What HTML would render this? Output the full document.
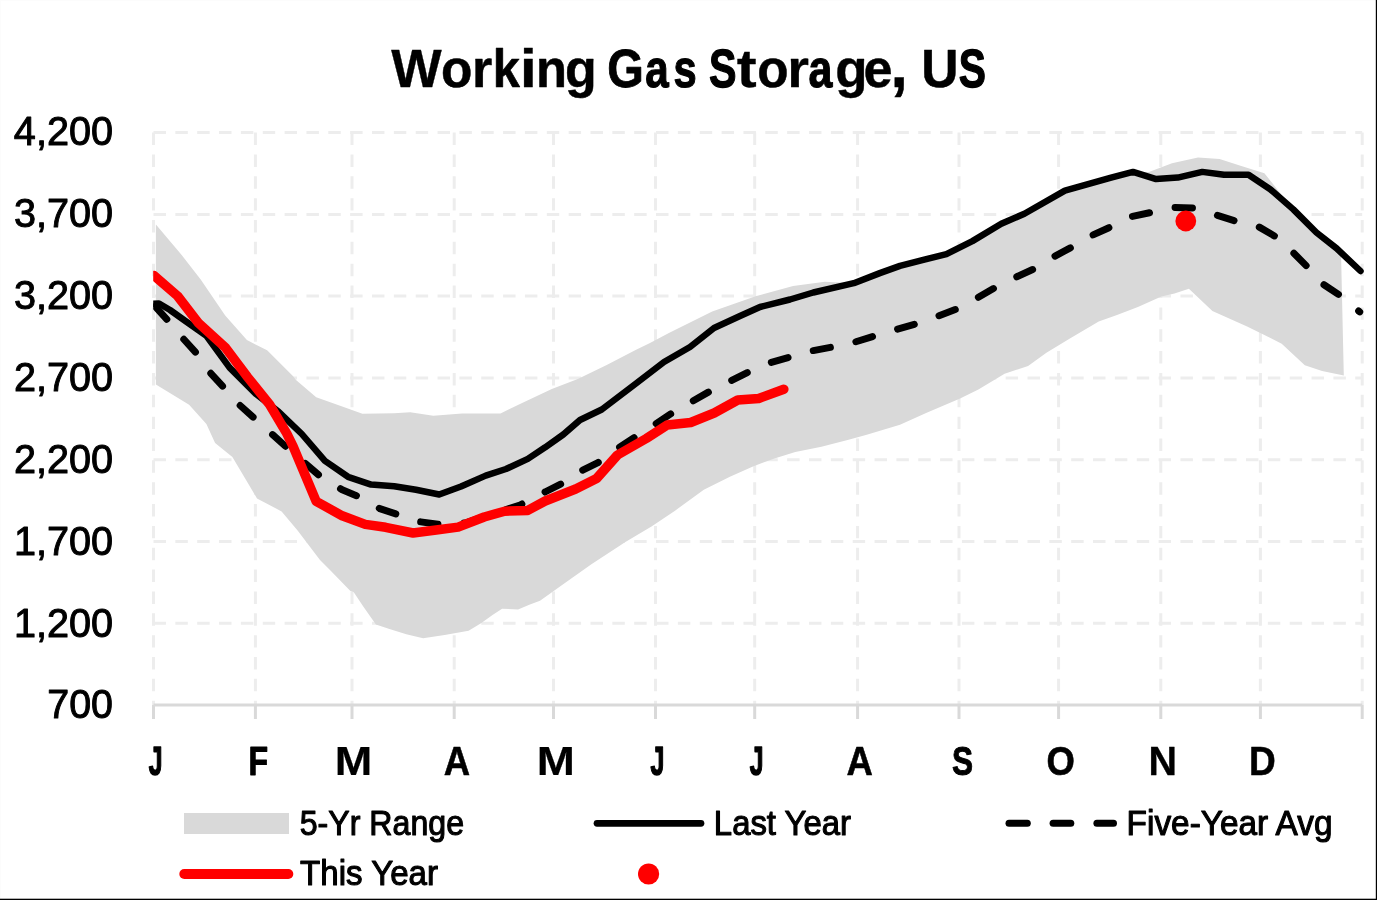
<!DOCTYPE html>
<html><head><meta charset="utf-8"><style>
html,body{margin:0;padding:0;background:#fff;}
body{width:1377px;height:900px;overflow:hidden;position:relative;font-family:"Liberation Sans",sans-serif;}
svg{position:absolute;left:0;top:0;display:block;will-change:transform;}
</style></head><body>
<svg width="1377" height="900" viewBox="0 0 1377 900">
<line x1="153.5" y1="132.6" x2="1362.2" y2="132.6" stroke="#ededed" stroke-width="3" stroke-dasharray="12.45 9.4"/>
<line x1="153.5" y1="214.4" x2="1362.2" y2="214.4" stroke="#ededed" stroke-width="3" stroke-dasharray="12.45 9.4"/>
<line x1="153.5" y1="296.1" x2="1362.2" y2="296.1" stroke="#ededed" stroke-width="3" stroke-dasharray="12.45 9.4"/>
<line x1="153.5" y1="377.9" x2="1362.2" y2="377.9" stroke="#ededed" stroke-width="3" stroke-dasharray="12.45 9.4"/>
<line x1="153.5" y1="459.7" x2="1362.2" y2="459.7" stroke="#ededed" stroke-width="3" stroke-dasharray="12.45 9.4"/>
<line x1="153.5" y1="541.4" x2="1362.2" y2="541.4" stroke="#ededed" stroke-width="3" stroke-dasharray="12.45 9.4"/>
<line x1="153.5" y1="623.2" x2="1362.2" y2="623.2" stroke="#ededed" stroke-width="3" stroke-dasharray="12.45 9.4"/>
<line x1="153.5" y1="132.6" x2="153.5" y2="705" stroke="#ededed" stroke-width="3" stroke-dasharray="12.45 9.4"/>
<line x1="255.4" y1="132.6" x2="255.4" y2="705" stroke="#ededed" stroke-width="3" stroke-dasharray="12.45 9.4"/>
<line x1="352.0" y1="132.6" x2="352.0" y2="705" stroke="#ededed" stroke-width="3" stroke-dasharray="12.45 9.4"/>
<line x1="454.2" y1="132.6" x2="454.2" y2="705" stroke="#ededed" stroke-width="3" stroke-dasharray="12.45 9.4"/>
<line x1="553.5" y1="132.6" x2="553.5" y2="705" stroke="#ededed" stroke-width="3" stroke-dasharray="12.45 9.4"/>
<line x1="655.5" y1="132.6" x2="655.5" y2="705" stroke="#ededed" stroke-width="3" stroke-dasharray="12.45 9.4"/>
<line x1="754.7" y1="132.6" x2="754.7" y2="705" stroke="#ededed" stroke-width="3" stroke-dasharray="12.45 9.4"/>
<line x1="857.6" y1="132.6" x2="857.6" y2="705" stroke="#ededed" stroke-width="3" stroke-dasharray="12.45 9.4"/>
<line x1="959.0" y1="132.6" x2="959.0" y2="705" stroke="#ededed" stroke-width="3" stroke-dasharray="12.45 9.4"/>
<line x1="1058.6" y1="132.6" x2="1058.6" y2="705" stroke="#ededed" stroke-width="3" stroke-dasharray="12.45 9.4"/>
<line x1="1160.8" y1="132.6" x2="1160.8" y2="705" stroke="#ededed" stroke-width="3" stroke-dasharray="12.45 9.4"/>
<line x1="1260.4" y1="132.6" x2="1260.4" y2="705" stroke="#ededed" stroke-width="3" stroke-dasharray="12.45 9.4"/>
<line x1="1362.2" y1="132.6" x2="1362.2" y2="705" stroke="#ededed" stroke-width="3" stroke-dasharray="12.45 9.4"/>
<polygon points="155.9,224.6 180.4,253.4 200.7,279.4 225.2,315.6 246.9,340.1 267.1,350.2 293.1,376.2 296.0,380.0 316.2,397.3 342.2,406.6 362.4,413.8 394.2,413.2 410.2,412.2 433.3,415.8 462.2,413.4 500.5,413.5 520.0,404.0 551.8,389.0 577.8,379.0 606.7,365.0 635.6,350.0 650.0,343.0 668.9,333.0 712.2,311.5 755.6,296.2 793.1,286.1 824.9,281.8 853.8,283.2 879.8,273.1 900.0,265.9 923.3,259.9 946.4,254.1 972.4,241.1 1001.3,223.8 1024.4,213.7 1064.9,190.6 1111.1,177.6 1131.3,172.4 1148.9,171.9 1172.0,163.2 1198.0,157.4 1219.6,158.9 1241.3,166.1 1264.4,173.3 1281.7,195.0 1293.3,209.4 1316.4,232.5 1336.6,248.4 1341.0,252.0 1343.8,375.4 1322.1,371.1 1304.8,365.3 1281.7,343.7 1247.1,326.4 1212.4,311.0 1188.9,288.8 1174.5,293.5 1161.4,296.6 1137.9,307.1 1117.0,314.9 1098.7,321.4 1069.9,338.4 1046.4,352.8 1028.1,365.9 1004.6,373.7 978.4,389.4 960.1,398.6 926.1,413.0 900.0,424.7 865.9,434.9 847.6,440.1 821.4,446.7 795.3,451.9 774.4,458.4 753.5,466.3 729.9,476.7 703.8,489.8 675.0,510.7 651.5,526.4 625.4,542.1 591.4,564.3 560.0,586.5 540.0,600.7 529.3,604.7 518.1,609.5 502.1,608.7 492.5,615.1 481.4,623.1 468.6,630.7 444.6,635.1 423.1,638.3 406.3,634.3 388.7,628.7 375.9,624.4 363.1,606.3 353.6,591.9 350.4,591.1 331.2,571.2 320.0,560.0 297.4,530.2 281.6,511.4 257.0,498.4 232.4,457.0 215.1,443.0 206.4,424.0 189.1,404.8 155.9,384.6" fill="#d9d9d9"/>
<line x1="153.5" y1="705" x2="1362.2" y2="705" stroke="#d9d9d9" stroke-width="3"/>
<line x1="153.5" y1="705" x2="153.5" y2="719" stroke="#d9d9d9" stroke-width="3"/>
<line x1="255.4" y1="705" x2="255.4" y2="719" stroke="#d9d9d9" stroke-width="3"/>
<line x1="352.0" y1="705" x2="352.0" y2="719" stroke="#d9d9d9" stroke-width="3"/>
<line x1="454.2" y1="705" x2="454.2" y2="719" stroke="#d9d9d9" stroke-width="3"/>
<line x1="553.5" y1="705" x2="553.5" y2="719" stroke="#d9d9d9" stroke-width="3"/>
<line x1="655.5" y1="705" x2="655.5" y2="719" stroke="#d9d9d9" stroke-width="3"/>
<line x1="754.7" y1="705" x2="754.7" y2="719" stroke="#d9d9d9" stroke-width="3"/>
<line x1="857.6" y1="705" x2="857.6" y2="719" stroke="#d9d9d9" stroke-width="3"/>
<line x1="959.0" y1="705" x2="959.0" y2="719" stroke="#d9d9d9" stroke-width="3"/>
<line x1="1058.6" y1="705" x2="1058.6" y2="719" stroke="#d9d9d9" stroke-width="3"/>
<line x1="1160.8" y1="705" x2="1160.8" y2="719" stroke="#d9d9d9" stroke-width="3"/>
<line x1="1260.4" y1="705" x2="1260.4" y2="719" stroke="#d9d9d9" stroke-width="3"/>
<line x1="1362.2" y1="705" x2="1362.2" y2="719" stroke="#d9d9d9" stroke-width="3"/>
<defs><clipPath id="pc"><rect x="153.2" y="100" width="1220" height="620"/></clipPath></defs><g clip-path="url(#pc)">
<polyline points="151.0,302.0 167.4,319.9 183.3,338.7 196.3,353.1 210.8,373.3 223.8,387.5 239.7,405.1 254.1,418.0 272.9,434.9 287.3,447.9 319.1,475.3 342.2,489.8 359.6,497.0 379.8,508.6 397.1,514.3 418.9,521.6 439.1,524.4 465.1,523.0 520.0,505.0 546.0,491.5 563.3,482.8 580.7,471.2 598.0,462.6 618.2,448.1 635.6,436.6 654.4,424.8 671.8,413.2 709.3,391.6 749.8,371.3 770.0,362.7 790.2,356.9 810.4,351.1 833.6,346.8 853.8,342.4 876.9,335.2 897.3,329.2 917.6,323.4 937.8,316.2 956.6,309.0 978.2,297.4 995.6,287.3 1015.8,277.2 1034.6,268.6 1053.3,257.0 1072.1,246.9 1092.3,235.3 1111.1,226.7 1131.6,216.6 1151.8,212.3 1173.4,207.4 1195.1,208.0 1216.7,215.2 1235.5,221.0 1258.6,226.7 1275.9,236.8 1293.3,252.7 1307.7,267.2 1323.6,284.5 1340.9,296.0 1359.7,311.9" fill="none" stroke="#000" stroke-width="7" stroke-linecap="round" stroke-linejoin="round" stroke-dasharray="17.4 26.16" stroke-dashoffset="-6.05"/>
<polyline points="150.0,303.8 159.0,303.5 170.0,310.0 183.3,319.5 206.4,335.8 229.6,367.6 255.6,393.6 278.7,411.8 301.8,434.0 324.9,460.9 348.0,476.8 371.1,484.6 394.2,486.3 416.0,489.8 439.2,494.5 461.0,486.5 485.7,475.6 506.0,469.0 527.8,458.9 545.2,447.3 563.3,434.5 580.0,420.0 601.8,409.5 636.0,383.5 664.0,362.0 690.0,347.0 714.0,328.0 740.0,316.0 760.0,307.0 790.0,299.5 813.3,292.5 853.8,283.2 879.8,273.1 900.0,265.9 923.3,259.9 946.4,254.1 972.4,241.1 1001.3,223.8 1024.4,213.7 1064.9,190.6 1111.1,177.6 1133.0,171.9 1156.1,179.1 1177.8,177.6 1202.3,171.9 1224.0,174.8 1248.5,174.8 1270.2,189.2 1293.3,209.4 1316.4,232.5 1336.6,248.4 1360.5,271.0" fill="none" stroke="#000" stroke-width="6.5" stroke-linecap="round" stroke-linejoin="round"/>
<polyline points="154.0,275.6 177.6,296.0 198.7,323.3 225.6,347.8 247.6,377.1 269.6,404.5 286.7,433.4 293.1,446.4 316.2,501.3 342.2,515.8 365.3,524.4 385.6,527.3 413.1,533.0 436.2,530.0 458.1,527.1 484.2,517.0 504.6,511.2 527.8,510.4 545.2,501.0 575.7,489.0 596.6,478.5 617.5,455.0 646.3,438.5 667.2,425.0 690.7,422.5 714.2,413.0 737.8,400.0 758.7,398.5 783.8,389.2" fill="none" stroke="#ff0000" stroke-width="9.5" stroke-linecap="round" stroke-linejoin="round"/>
<circle cx="1185.8" cy="221" r="10.4" fill="#ff0000"/>
</g>
<text x="391.20" y="87.10" font-family="Liberation Sans, sans-serif" font-weight="bold" font-size="54.3" textLength="50.40" lengthAdjust="spacingAndGlyphs" stroke="#000" stroke-width="0.3665173038048419" stroke-linejoin="round">W</text>
<text x="440.95" y="87.10" font-family="Liberation Sans, sans-serif" font-weight="bold" font-size="54.3" textLength="31.40" lengthAdjust="spacingAndGlyphs" stroke="#000" stroke-width="0.5131028025112323" stroke-linejoin="round">o</text>
<text x="472.00" y="87.10" font-family="Liberation Sans, sans-serif" font-weight="bold" font-size="54.3" textLength="20.34" lengthAdjust="spacingAndGlyphs" stroke="#000" stroke-width="0.44933869077514926" stroke-linejoin="round">r</text>
<text x="492.74" y="87.10" font-family="Liberation Sans, sans-serif" font-weight="bold" font-size="54.3" textLength="27.07" lengthAdjust="spacingAndGlyphs" stroke="#000" stroke-width="0.7150793560756397" stroke-linejoin="round">k</text>
<text x="519.81" y="87.10" font-family="Liberation Sans, sans-serif" font-weight="bold" font-size="54.3" textLength="17.24" lengthAdjust="spacingAndGlyphs" stroke="#000" stroke-width="0.3" stroke-linejoin="round">i</text>
<text x="536.00" y="87.10" font-family="Liberation Sans, sans-serif" font-weight="bold" font-size="54.3" textLength="30.98" lengthAdjust="spacingAndGlyphs" stroke="#000" stroke-width="0.563378439693597" stroke-linejoin="round">n</text>
<text x="565.12" y="87.10" font-family="Liberation Sans, sans-serif" font-weight="bold" font-size="54.3" textLength="31.70" lengthAdjust="spacingAndGlyphs" stroke="#000" stroke-width="0.4776303504937191" stroke-linejoin="round">g</text>
<text x="607.22" y="87.10" font-family="Liberation Sans, sans-serif" font-weight="bold" font-size="54.3" textLength="36.53" lengthAdjust="spacingAndGlyphs" stroke="#000" stroke-width="0.8404815496896474" stroke-linejoin="round">G</text>
<text x="645.13" y="87.10" font-family="Liberation Sans, sans-serif" font-weight="bold" font-size="54.3" textLength="23.48" lengthAdjust="spacingAndGlyphs" stroke="#000" stroke-width="1.1903216443979143" stroke-linejoin="round">a</text>
<text x="673.49" y="87.10" font-family="Liberation Sans, sans-serif" font-weight="bold" font-size="54.3" textLength="23.17" lengthAdjust="spacingAndGlyphs" stroke="#000" stroke-width="1.2306322897482944" stroke-linejoin="round">s</text>
<text x="709.05" y="87.10" font-family="Liberation Sans, sans-serif" font-weight="bold" font-size="54.3" textLength="27.50" lengthAdjust="spacingAndGlyphs" stroke="#000" stroke-width="1.2624020390029982" stroke-linejoin="round">S</text>
<text x="736.73" y="87.10" font-family="Liberation Sans, sans-serif" font-weight="bold" font-size="54.3" textLength="19.94" lengthAdjust="spacingAndGlyphs" stroke="#000" stroke-width="0.3" stroke-linejoin="round">t</text>
<text x="757.15" y="87.10" font-family="Liberation Sans, sans-serif" font-weight="bold" font-size="54.3" textLength="31.29" lengthAdjust="spacingAndGlyphs" stroke="#000" stroke-width="0.5269235952027926" stroke-linejoin="round">o</text>
<text x="787.16" y="87.10" font-family="Liberation Sans, sans-serif" font-weight="bold" font-size="54.3" textLength="21.73" lengthAdjust="spacingAndGlyphs" stroke="#000" stroke-width="0.3" stroke-linejoin="round">r</text>
<text x="808.50" y="87.10" font-family="Liberation Sans, sans-serif" font-weight="bold" font-size="54.3" textLength="23.89" lengthAdjust="spacingAndGlyphs" stroke="#000" stroke-width="1.1350384736316583" stroke-linejoin="round">a</text>
<text x="835.18" y="87.10" font-family="Liberation Sans, sans-serif" font-weight="bold" font-size="54.3" textLength="32.30" lengthAdjust="spacingAndGlyphs" stroke="#000" stroke-width="0.4044048782809552" stroke-linejoin="round">g</text>
<text x="863.62" y="87.10" font-family="Liberation Sans, sans-serif" font-weight="bold" font-size="54.3" textLength="29.02" lengthAdjust="spacingAndGlyphs" stroke="#000" stroke-width="0.45661782368483567" stroke-linejoin="round">e</text>
<text x="890.59" y="87.10" font-family="Liberation Sans, sans-serif" font-weight="bold" font-size="62.44499999999999" textLength="17.35" lengthAdjust="spacingAndGlyphs" stroke="#000" stroke-width="0.5" stroke-linejoin="round">,</text>
<text x="921.36" y="87.10" font-family="Liberation Sans, sans-serif" font-weight="bold" font-size="54.3" textLength="37.25" lengthAdjust="spacingAndGlyphs" stroke="#000" stroke-width="0.5003168445469808" stroke-linejoin="round">U</text>
<text x="958.87" y="87.10" font-family="Liberation Sans, sans-serif" font-weight="bold" font-size="54.3" textLength="27.17" lengthAdjust="spacingAndGlyphs" stroke="#000" stroke-width="1.2992959413632803" stroke-linejoin="round">S</text>
<text x="13.87" y="145.10" font-family="Liberation Sans, sans-serif" font-size="41.5" textLength="99.19" lengthAdjust="spacingAndGlyphs" stroke="#000" stroke-width="1.0" stroke-linejoin="round">4,200</text>
<text x="13.88" y="227.00" font-family="Liberation Sans, sans-serif" font-size="41.5" textLength="99.19" lengthAdjust="spacingAndGlyphs" stroke="#000" stroke-width="1.0" stroke-linejoin="round">3,700</text>
<text x="13.88" y="308.90" font-family="Liberation Sans, sans-serif" font-size="41.5" textLength="99.19" lengthAdjust="spacingAndGlyphs" stroke="#000" stroke-width="1.0" stroke-linejoin="round">3,200</text>
<text x="13.88" y="390.80" font-family="Liberation Sans, sans-serif" font-size="41.5" textLength="99.18" lengthAdjust="spacingAndGlyphs" stroke="#000" stroke-width="1.0" stroke-linejoin="round">2,700</text>
<text x="13.88" y="472.70" font-family="Liberation Sans, sans-serif" font-size="41.5" textLength="99.18" lengthAdjust="spacingAndGlyphs" stroke="#000" stroke-width="1.0" stroke-linejoin="round">2,200</text>
<text x="13.89" y="554.60" font-family="Liberation Sans, sans-serif" font-size="41.5" textLength="99.17" lengthAdjust="spacingAndGlyphs" stroke="#000" stroke-width="1.0" stroke-linejoin="round">1,700</text>
<text x="13.89" y="636.50" font-family="Liberation Sans, sans-serif" font-size="41.5" textLength="99.17" lengthAdjust="spacingAndGlyphs" stroke="#000" stroke-width="1.0" stroke-linejoin="round">1,200</text>
<text x="47.29" y="718.40" font-family="Liberation Sans, sans-serif" font-size="41.5" textLength="65.76" lengthAdjust="spacingAndGlyphs" stroke="#000" stroke-width="1.0" stroke-linejoin="round">700</text>
<text x="148.63" y="775.10" font-family="Liberation Sans, sans-serif" font-weight="bold" font-size="41.3" textLength="13.76" lengthAdjust="spacingAndGlyphs" stroke="#000" stroke-width="1.603751746873541" stroke-linejoin="round">J</text>
<text x="248.55" y="775.10" font-family="Liberation Sans, sans-serif" font-weight="bold" font-size="41.3" textLength="19.64" lengthAdjust="spacingAndGlyphs" stroke="#000" stroke-width="0.975432086383845" stroke-linejoin="round">F</text>
<text x="334.88" y="775.10" font-family="Liberation Sans, sans-serif" font-weight="bold" font-size="41.3" textLength="37.54" lengthAdjust="spacingAndGlyphs" stroke="#000" stroke-width="0.2" stroke-linejoin="round">M</text>
<text x="443.69" y="775.10" font-family="Liberation Sans, sans-serif" font-weight="bold" font-size="41.3" textLength="26.37" lengthAdjust="spacingAndGlyphs" stroke="#000" stroke-width="0.6057061304907998" stroke-linejoin="round">A</text>
<text x="536.73" y="775.10" font-family="Liberation Sans, sans-serif" font-weight="bold" font-size="41.3" textLength="38.14" lengthAdjust="spacingAndGlyphs" stroke="#000" stroke-width="0.2" stroke-linejoin="round">M</text>
<text x="650.43" y="775.10" font-family="Liberation Sans, sans-serif" font-weight="bold" font-size="41.3" textLength="13.87" lengthAdjust="spacingAndGlyphs" stroke="#000" stroke-width="1.5858350951374283" stroke-linejoin="round">J</text>
<text x="749.63" y="775.10" font-family="Liberation Sans, sans-serif" font-weight="bold" font-size="41.3" textLength="13.76" lengthAdjust="spacingAndGlyphs" stroke="#000" stroke-width="1.603751746873556" stroke-linejoin="round">J</text>
<text x="846.39" y="775.10" font-family="Liberation Sans, sans-serif" font-weight="bold" font-size="41.3" textLength="26.37" lengthAdjust="spacingAndGlyphs" stroke="#000" stroke-width="0.6057061304908067" stroke-linejoin="round">A</text>
<text x="951.88" y="775.10" font-family="Liberation Sans, sans-serif" font-weight="bold" font-size="41.3" textLength="21.05" lengthAdjust="spacingAndGlyphs" stroke="#000" stroke-width="1.0260518944002908" stroke-linejoin="round">S</text>
<text x="1046.61" y="775.10" font-family="Liberation Sans, sans-serif" font-weight="bold" font-size="41.3" textLength="28.32" lengthAdjust="spacingAndGlyphs" stroke="#000" stroke-width="0.6150103645896613" stroke-linejoin="round">O</text>
<text x="1148.46" y="775.10" font-family="Liberation Sans, sans-serif" font-weight="bold" font-size="41.3" textLength="28.49" lengthAdjust="spacingAndGlyphs" stroke="#000" stroke-width="0.3562896344978279" stroke-linejoin="round">N</text>
<text x="1249.02" y="775.10" font-family="Liberation Sans, sans-serif" font-weight="bold" font-size="41.3" textLength="26.74" lengthAdjust="spacingAndGlyphs" stroke="#000" stroke-width="0.5617800757596636" stroke-linejoin="round">D</text>
<rect x="184" y="813" width="105" height="21" fill="#d9d9d9"/>
<text x="299.76" y="835.00" font-family="Liberation Sans, sans-serif" font-size="34.3" textLength="164.29" lengthAdjust="spacingAndGlyphs" stroke="#000" stroke-width="1.1" stroke-linejoin="round">5-Yr Range</text>
<line x1="597" y1="823.3" x2="701" y2="823.3" stroke="#000" stroke-width="6.7" stroke-linecap="round"/>
<text x="713.85" y="834.90" font-family="Liberation Sans, sans-serif" font-size="34.3" textLength="137.17" lengthAdjust="spacingAndGlyphs" stroke="#000" stroke-width="1.1" stroke-linejoin="round">Last Year</text>
<line x1="1009.0" y1="823.2" x2="1027.3" y2="823.2" stroke="#000" stroke-width="7" stroke-linecap="round"/>
<line x1="1053.1" y1="823.2" x2="1070.8" y2="823.2" stroke="#000" stroke-width="7" stroke-linecap="round"/>
<line x1="1096.9" y1="823.2" x2="1113.5" y2="823.2" stroke="#000" stroke-width="7" stroke-linecap="round"/>
<text x="1126.61" y="834.50" font-family="Liberation Sans, sans-serif" font-size="34.3" textLength="205.89" lengthAdjust="spacingAndGlyphs" stroke="#000" stroke-width="1.1" stroke-linejoin="round">Five-Year Avg</text>
<line x1="184.3" y1="874" x2="288.3" y2="874" stroke="#ff0000" stroke-width="10" stroke-linecap="round"/>
<text x="300.02" y="884.70" font-family="Liberation Sans, sans-serif" font-size="34.3" textLength="138.01" lengthAdjust="spacingAndGlyphs" stroke="#000" stroke-width="1.1" stroke-linejoin="round">This Year</text>
<circle cx="648.6" cy="874" r="10.6" fill="#ff0000"/>
<rect x="0" y="0" width="1377" height="1" fill="#fcfcfc"/><rect x="0" y="0" width="1" height="900" fill="#fcfcfc"/>
<rect x="1375.8" y="0" width="1.2" height="900" fill="#000"/>
<rect x="0" y="898.7" width="1377" height="1.3" fill="#000"/>
</svg>
</body></html>
